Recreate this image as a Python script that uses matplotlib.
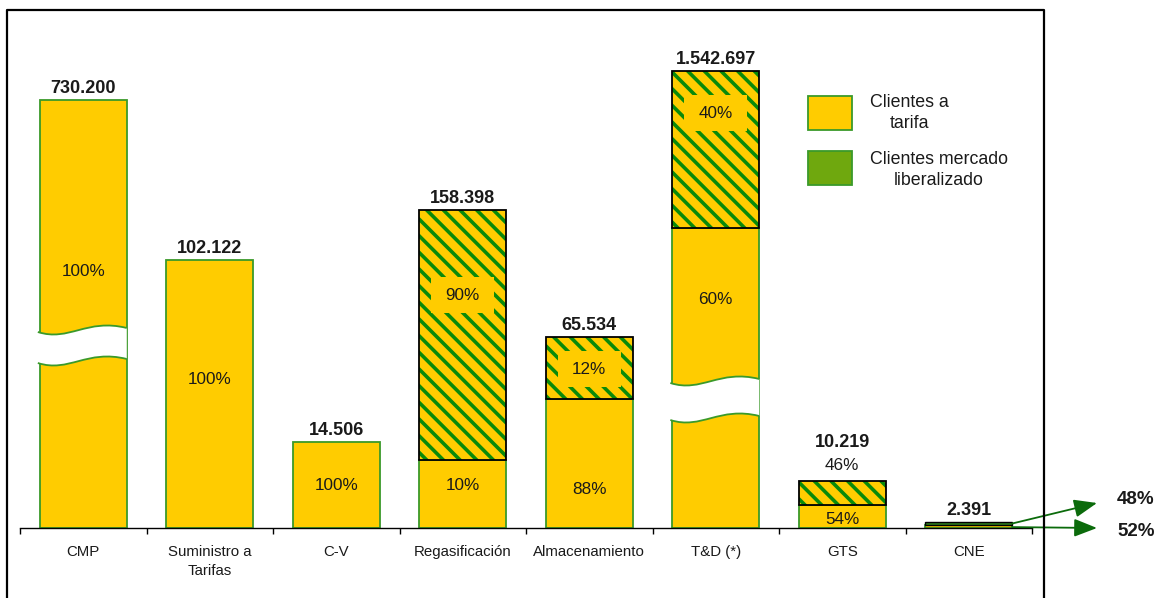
import matplotlib
matplotlib.use("Agg")
import matplotlib.pyplot as plt
from matplotlib.patches import Rectangle, PathPatch
from matplotlib.path import Path
from matplotlib.lines import Line2D

plt.rcParams['font.family'] = ['Liberation Sans', 'DejaVu Sans']
plt.rcParams['hatch.linewidth'] = 2.6

# ---------------- data ----------------
categorias = ["CMP", "Suministro a\nTarifas", "C-V", "Regasificación",
              "Almacenamiento", "T&D (*)", "GTS", "CNE"]
totales = [730200, 102122, 14506, 158398, 65534, 1542697, 10219, 2391]
pct_tarifa = [100, 100, 100, 10, 88, 60, 54, 52]
pct_liberal = [0, 0, 0, 90, 12, 40, 46, 48]
# drawn (non-proportional, broken-axis) segment heights
altura_tarifa = [428, 268, 86, 68, 129, 300, 23, 3]
altura_liberal = [0, 0, 0, 250, 62, 157, 24, 3]
leyenda = ["Clientes a\ntarifa", "Clientes mercado\nliberalizado"]

# ---------------- layout / style ----------------
W, H = 1166, 598
AMARILLO = "#FFCC00"
VERDE_BORDE = "#3A9A2A"
VERDE_RAYA = "#0A8A0A"
VERDE_FLECHA = "#0B6B0B"
TXT = "#1a1a1a"
ancho = 0.688
# label heights (layout, in drawn units)
y_lab_tarifa = [257, 149, 42, 42, 39, 228, 9, None]
y_lab_liberal = [None, None, None, 233, 159, 415, 62, None]
cortes = {0: (196, 31), 5: (145, 37)}   # bar index -> (top edge, gap)

fig = plt.figure(figsize=(W / 100, H / 100), dpi=100)
ax = fig.add_axes([20 / W, (H - 528) / H, 1012 / W, 518 / H])
ax.set_xlim(-0.5, len(categorias) - 0.5)
ax.set_ylim(0, 518)

x = list(range(len(categorias)))

for i in x:
    t = altura_tarifa[i]
    l = altura_liberal[i]
    ax.bar(i, t, width=ancho, color=AMARILLO, edgecolor=VERDE_BORDE, linewidth=1.3, zorder=2)
    if l > 0:
        if l < 8:
            ax.bar(i, l, bottom=t, width=ancho, color="#2E7D1E", edgecolor="black",
                   linewidth=1.0, zorder=3)
        else:
            ax.bar(i, l, bottom=t, width=ancho, color=AMARILLO, edgecolor=VERDE_RAYA,
                   linewidth=0, hatch="\\\\", zorder=2)
            ax.bar(i, l, bottom=t, width=ancho, fill=False, edgecolor="black",
                   linewidth=1.3, zorder=3)

# break symbols
for i, (top, gap) in cortes.items():
    xl = i - ancho / 2 - 0.015
    xr = i + ancho / 2
    wdt = xr - xl

    def onda(y0):
        return [(xl, y0), (xl + 0.35 * wdt, y0 - 10), (xl + 0.55 * wdt, y0 + 14), (xr, y0 + 4)]
    sup = onda(top)
    inf = onda(top - gap)
    verts = sup + [inf[3], inf[2], inf[1], inf[0], sup[0]]
    codes = [Path.MOVETO, Path.CURVE4, Path.CURVE4, Path.CURVE4,
             Path.LINETO, Path.CURVE4, Path.CURVE4, Path.CURVE4, Path.CLOSEPOLY]
    ax.add_patch(PathPatch(Path(verts, codes), facecolor="white", edgecolor="none", zorder=4))
    for edge in (sup, inf):
        ax.add_patch(PathPatch(Path(edge, [Path.MOVETO, Path.CURVE4, Path.CURVE4, Path.CURVE4]),
                               facecolor="none", edgecolor=VERDE_BORDE, linewidth=1.3, zorder=5))

# labels
for i in x:
    total = altura_tarifa[i] + altura_liberal[i]
    y_total = total + 3
    if y_lab_liberal[i] is not None and y_lab_liberal[i] > total:
        y_total = y_lab_liberal[i] + 15
    ax.text(i, y_total, f"{totales[i]:,}".replace(",", "."), ha="center", va="bottom",
            fontsize=13, fontweight="bold", color=TXT, zorder=6)
    if y_lab_tarifa[i] is not None:
        ax.text(i, y_lab_tarifa[i], f"{pct_tarifa[i]}%", ha="center", va="center",
                fontsize=12.3, color=TXT, zorder=6)
    if y_lab_liberal[i] is not None:
        yl = y_lab_liberal[i]
        if yl < total:
            ax.add_patch(Rectangle((i - 0.25, yl - 18), 0.5, 36, facecolor=AMARILLO,
                                   edgecolor="none", zorder=5))
        ax.text(i, yl, f"{pct_liberal[i]}%", ha="center", va="center",
                fontsize=12.3, color=TXT, zorder=6)

# axis styling
for s in ("top", "right", "left"):
    ax.spines[s].set_visible(False)
ax.spines["bottom"].set_linewidth(1.0)
ax.set_yticks([])
ax.set_xticks(x)
ax.set_xticklabels(categorias, fontsize=10.8, color=TXT, linespacing=1.5)
ax.tick_params(axis="x", which="major", length=0, pad=12)
ax.set_xticks([i - 0.5 for i in range(len(categorias) + 1)], minor=True)
ax.tick_params(axis="x", which="minor", length=4, width=1.0, direction="out")
ax.set_facecolor("none")

# arrows for CNE
i = len(categorias) - 1
for yb, ytip, ylab, p in ((altura_tarifa[i] + altura_liberal[i] * 0.5, 503, 499, pct_liberal[i]),
                          (altura_tarifa[i] * 0.3, 528, 532, pct_tarifa[i])):
    ax.annotate("", xy=(1097, H - ytip), xycoords="figure pixels",
                xytext=(i + ancho / 2, yb), textcoords="data",
                arrowprops=dict(arrowstyle="-|>,head_length=1.4,head_width=0.55",
                                color=VERDE_FLECHA, lw=1.3, shrinkA=0, shrinkB=0),
                annotation_clip=False, zorder=6)
    fig.text(1117 / W, 1 - ylab / H, f"{p}%", ha="left", va="center",
             fontsize=13.5, fontweight="bold", color=TXT)

# frame
def fx(px):
    return px / W

def fy(py):
    return 1 - py / H

fig.add_artist(Line2D([fx(7), fx(7), fx(1044), fx(1044)], [fy(600), fy(10), fy(10), fy(600)],
                      color="black", linewidth=1.6, transform=fig.transFigure))

# legend
fig.add_artist(Rectangle((fx(808), fy(130)), fx(852) - fx(808), fy(96) - fy(130),
                         facecolor=AMARILLO, edgecolor=VERDE_BORDE, linewidth=1.3,
                         transform=fig.transFigure))
fig.add_artist(Rectangle((fx(808), fy(185)), fx(852) - fx(808), fy(151) - fy(185),
                         facecolor="#6FA80E", edgecolor=VERDE_BORDE, linewidth=1.3,
                         transform=fig.transFigure))
fig.text(fx(870), fy(113), leyenda[0], ha="left", va="center", multialignment="center",
         fontsize=12.8, color=TXT, linespacing=1.25)
fig.text(fx(870), fy(170), leyenda[1], ha="left", va="center", multialignment="center",
         fontsize=12.8, color=TXT, linespacing=1.25)

fig.savefig("out.png", dpi=100)
